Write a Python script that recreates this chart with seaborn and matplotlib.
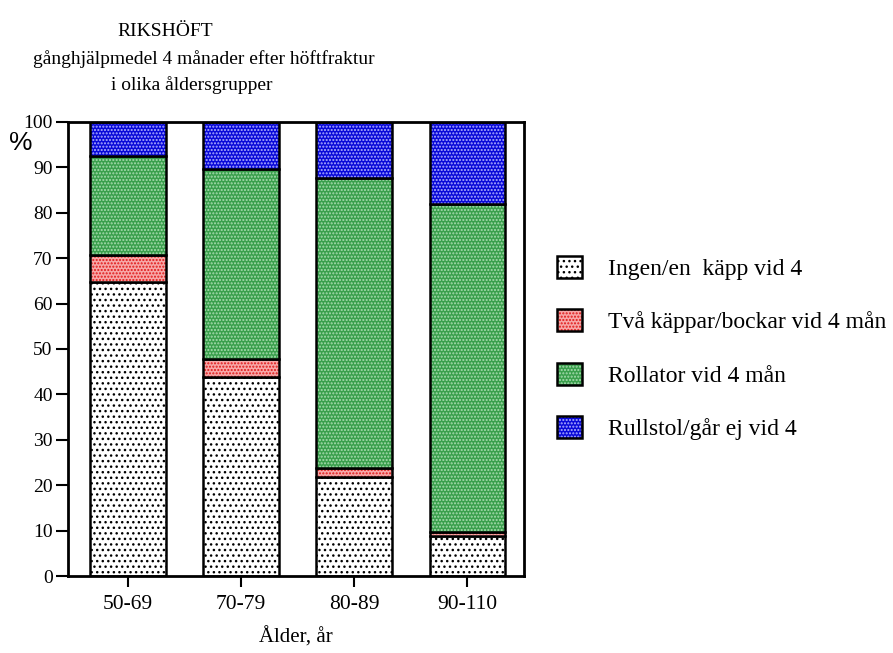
import numpy as np
import pandas as pd
import matplotlib
matplotlib.use('Agg')
import matplotlib.pyplot as plt
import seaborn as sns

# age groups and share (%) of each walking aid
ages = ['50-69', '70-79', '80-89', '90-110']
ingen = [64.8, 43.8, 21.8, 8.9]
tva = [5.9, 4.0, 2.0, 0.9]
rollator = [21.8, 41.8, 63.9, 72.1]
rullstol = [7.5, 10.4, 12.3, 18.1]
labels = ['Ingen/en  käpp vid 4', 'Två käppar/bockar vid 4 mån',
          'Rollator vid 4 mån', 'Rullstol/går ej vid 4']
yticks = [0, 10, 20, 30, 40, 50, 60, 70, 80, 90, 100]

sns.set_theme(style='ticks')
plt.rcParams['font.family'] = ['Liberation Serif', 'DejaVu Serif']
plt.rcParams['text.color'] = 'black'
plt.rcParams['axes.labelcolor'] = 'black'
plt.rcParams['hatch.linewidth'] = 1.0

fig = plt.figure(figsize=(8.93, 6.53), dpi=100)
ax = fig.add_axes([0.0761, 0.1179, 0.5107, 0.6953])

series = [ingen, tva, rollator, rullstol]
faces = ['white', '#f7a8a8', '#3a9f4c', '#0808d8']
hatch_cols = ['black', '#e01818', '#a8dcb0', '#b0b0ff']
hatches = ['...', '.....', '.....', '.....']

bottom = np.zeros(len(ages))
handles = []
for vals, fc, hc, h in zip(series, faces, hatch_cols, hatches):
    # filled, hatched segment
    sns.barplot(x=ages, y=vals, bottom=bottom, width=0.67, color=fc,
                saturation=1, errorbar=None, edgecolor=hc, linewidth=0,
                hatch=h, ax=ax)
    fill_patch = ax.containers[-1].patches[0]
    # black outline on top
    sns.barplot(x=ages, y=vals, bottom=bottom, width=0.67, color='black',
                fill=False, errorbar=None, edgecolor='black', linewidth=1.8,
                ax=ax)
    edge_patch = ax.containers[-1].patches[0]
    handles.append((fill_patch, edge_patch))
    bottom = bottom + np.array(vals)

ax.set_xlim(-0.53, 3.5)
ax.set_ylim(0, 100)
ax.set_yticks(yticks)
ax.set_yticklabels([str(t) for t in yticks])
for s in ax.spines.values():
    s.set_visible(True)
    s.set_color('black')
    s.set_linewidth(2)
ax.tick_params(axis='y', direction='out', length=9, width=1.5, pad=2,
               labelsize=14, colors='black')
ax.tick_params(axis='x', direction='out', length=8, width=1.5, pad=6,
               labelsize=15.5, colors='black')
ax.set_ylabel('')
ax.set_xlabel('Ålder, år', fontsize=15, labelpad=9, color='black')

fig.text(0.0235, 0.781, '%', family='Liberation Sans', fontsize=19,
         ha='center', va='center')

fig.text(165 / 893, 1 - 36 / 653, 'RIKSHÖFT', fontsize=14, ha='center',
         va='baseline')
fig.text(204 / 893, 1 - 64 / 653, 'gånghjälpmedel 4 månader efter höftfraktur',
         fontsize=14, ha='center', va='baseline')
fig.text(192 / 893, 1 - 90 / 653, 'i olika åldersgrupper', fontsize=14,
         ha='center', va='baseline')

fig.legend(handles=handles, labels=labels, loc='upper left',
           bbox_to_anchor=(557 / 893, 1 - 256 / 653), frameon=False,
           fontsize=17, handlelength=1.06, handleheight=1.06,
           handletextpad=1.1, labelspacing=1.24, borderpad=0,
           borderaxespad=0, labelcolor='black')

fig.savefig('out.png', dpi=100)
